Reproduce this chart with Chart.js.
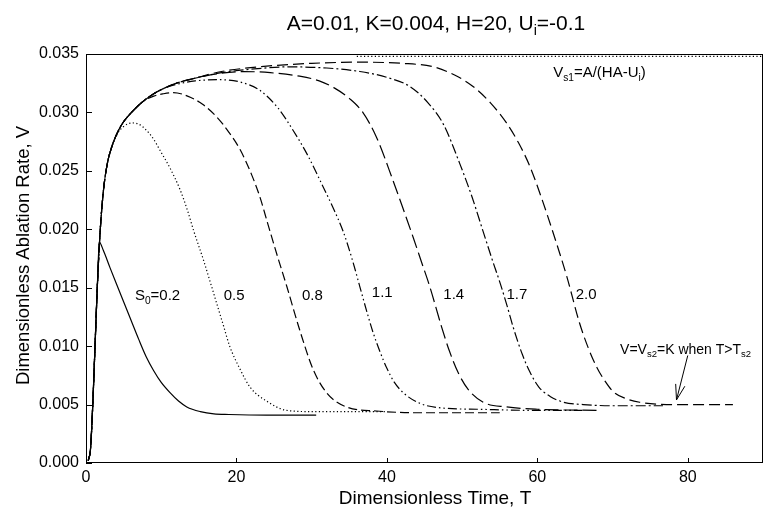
<!DOCTYPE html>
<html>
<head>
<meta charset="utf-8">
<script src="https://cdn.jsdelivr.net/npm/chart.js@4.4.0/dist/chart.umd.min.js"></script>
<style>
  html, body { margin: 0; padding: 0; background: #fff; }
</style>
</head>
<body>
<canvas id="ablation-chart" width="767" height="522"></canvas>
<script>
// values: T = dimensionless time, V = dimensionless ablation rate
var xTicks = [0, 20, 40, 60, 80];
var yTicks = [0, 0.005, 0.01, 0.015, 0.02, 0.025, 0.03, 0.035];

var tS02 = [0.3, 0.6, 0.9, 1.2, 1.5, 1.77, 2.3, 3.2, 4.0, 5.0, 6.0, 7.0, 8.0, 9.0, 10.0, 11.2, 12.3, 13.4, 15.2, 17.0, 19.0, 24.0, 30.6];
var vS02 = [0.0002, 0.0012, 0.005, 0.010, 0.015, 0.0189, 0.0182, 0.0167, 0.0154, 0.0138, 0.0122, 0.0106, 0.0091, 0.0079, 0.0069, 0.0060, 0.0053, 0.0048, 0.0044, 0.0042, 0.00415, 0.0041, 0.0041];

var tS05 = [0.3, 0.6, 0.9, 1.2, 1.5, 1.85, 2.3, 2.8, 3.4, 4.2, 5.0, 6.1, 7.0, 8.0, 9.0, 9.8, 11.2, 12.5, 13.5, 14.3, 15.6, 16.7, 17.4, 18.3, 19.1, 20.5, 21.8, 24.0, 26.7, 30.0, 35.0, 40.0];
var vS05 = [0.0002, 0.0012, 0.005, 0.010, 0.015, 0.0195, 0.0232, 0.0255, 0.0270, 0.0282, 0.0288, 0.0291, 0.0290, 0.0285, 0.0277, 0.0268, 0.0252, 0.0234, 0.0216, 0.0199, 0.0174, 0.0151, 0.0136, 0.0117, 0.0100, 0.0080, 0.0065, 0.0053, 0.0045, 0.0044, 0.0044, 0.0044];

var tS08 = [0.3, 0.6, 0.9, 1.2, 1.5, 1.85, 2.3, 2.8, 3.4, 4.2, 5.0, 6.2, 7.5, 9.0, 10.3, 11.6, 13.5, 15.5, 17.4, 19.0, 20.5, 22.0, 23.1, 24.2, 25.4, 26.7, 28.4, 30.2, 32.0, 34.6, 38.6, 44.0, 50.0, 55.0];
var vS08 = [0.0002, 0.0012, 0.005, 0.010, 0.015, 0.0195, 0.0232, 0.0255, 0.0270, 0.0283, 0.0292, 0.0301, 0.0309, 0.0314, 0.0316, 0.0317, 0.0314, 0.0307, 0.0296, 0.0283, 0.0268, 0.0247, 0.0228, 0.0204, 0.0178, 0.0151, 0.0114, 0.0080, 0.0060, 0.0048, 0.00445, 0.0043, 0.0043, 0.0043];

var tS11 = [0.3, 0.6, 0.9, 1.2, 1.5, 1.85, 2.3, 2.8, 3.4, 4.2, 5.0, 6.2, 7.5, 9.0, 10.5, 12.0, 14.5, 17.8, 20.5, 23.1, 25.5, 27.5, 29.5, 31.1, 32.8, 34.2, 35.4, 36.4, 37.4, 38.2, 39.1, 40.0, 41.0, 42.2, 44.4, 47.5, 52.0, 60.0, 66.0];
var vS11 = [0.0002, 0.0012, 0.005, 0.010, 0.015, 0.0195, 0.0232, 0.0255, 0.0270, 0.0283, 0.0292, 0.0301, 0.0309, 0.0316, 0.0321, 0.0324, 0.0327, 0.0328, 0.0326, 0.0319, 0.0304, 0.0285, 0.0263, 0.0242, 0.0219, 0.0198, 0.0174, 0.0151, 0.0128, 0.0111, 0.0095, 0.0081, 0.0069, 0.0060, 0.0051, 0.0047, 0.0046, 0.0045, 0.0045];

var tS14 = [0.3, 0.6, 0.9, 1.2, 1.5, 1.85, 2.3, 2.8, 3.4, 4.2, 5.0, 6.2, 7.5, 9.0, 10.5, 12.0, 14.3, 17.4, 21.0, 24.5, 28.4, 31.0, 33.0, 35.0, 36.8, 38.6, 40.8, 42.3, 43.5, 44.6, 45.7, 47.2, 48.3, 49.5, 50.8, 52.8, 55.9, 60.0, 68.0];
var vS14 = [0.0002, 0.0012, 0.005, 0.010, 0.015, 0.0195, 0.0232, 0.0255, 0.0270, 0.0283, 0.0292, 0.0301, 0.0309, 0.0316, 0.0321, 0.0325, 0.0329, 0.0333, 0.0335, 0.0334, 0.0331, 0.0327, 0.0321, 0.0312, 0.0300, 0.0279, 0.0242, 0.0215, 0.0193, 0.0172, 0.0151, 0.0118, 0.0096, 0.0077, 0.0063, 0.0052, 0.0048, 0.0046, 0.0045];

var tS17 = [0.3, 0.6, 0.9, 1.2, 1.5, 1.85, 2.3, 2.8, 3.4, 4.2, 5.0, 6.2, 7.5, 9.0, 10.5, 12.0, 14.3, 18.0, 22.0, 27.0, 32.0, 36.4, 40.0, 43.1, 45.5, 47.5, 49.7, 51.3, 52.8, 54.0, 55.0, 56.0, 56.8, 58.0, 59.0, 60.2, 61.7, 63.5, 66.1, 70.0, 76.7];
var vS17 = [0.0002, 0.0012, 0.005, 0.010, 0.015, 0.0195, 0.0232, 0.0255, 0.0270, 0.0283, 0.0292, 0.0301, 0.0309, 0.0316, 0.0321, 0.0325, 0.0329, 0.0334, 0.0337, 0.0339, 0.0338, 0.0335, 0.0330, 0.0322, 0.0308, 0.0290, 0.0256, 0.0228, 0.0198, 0.0174, 0.0155, 0.0134, 0.0116, 0.0093, 0.0078, 0.0065, 0.0057, 0.0052, 0.0050, 0.0049, 0.0049];

var tS20 = [0.3, 0.6, 0.9, 1.2, 1.5, 1.85, 2.3, 2.8, 3.4, 4.2, 5.0, 6.2, 7.5, 9.0, 10.5, 12.0, 14.3, 18.0, 23.0, 30.0, 36.4, 42.0, 46.2, 49.0, 51.5, 53.8, 55.9, 57.5, 59.0, 60.6, 62.1, 63.9, 65.6, 66.8, 67.9, 69.0, 70.1, 71.8, 73.6, 78.0, 86.0];
var vS20 = [0.0002, 0.0012, 0.005, 0.010, 0.015, 0.0195, 0.0232, 0.0255, 0.0270, 0.0283, 0.0292, 0.0301, 0.0309, 0.0316, 0.0321, 0.0325, 0.0329, 0.0335, 0.0339, 0.0342, 0.0343, 0.0342, 0.0339, 0.0332, 0.0322, 0.0308, 0.0291, 0.0274, 0.0254, 0.0226, 0.0197, 0.0160, 0.0120, 0.0098, 0.0082, 0.0070, 0.0061, 0.0055, 0.0052, 0.0050, 0.0050];

// upper steady value Vs1 (dotted line along the top)
var tVs1 = [36, 90];
var vVs1 = [0.0348, 0.0348];

// arrow pointing at the lower steady value
var arrowT = [80.0, 78.5];
var arrowV = [0.0092, 0.0054];

var FONT = "'Liberation Sans', Arial, Helvetica, sans-serif";

function pts(t, v) {
  return t.map(function (x, i) { return { x: x, y: v[i] }; });
}

function curve(t, v, dash) {
  return {
    data: pts(t, v),
    showLine: true,
    borderColor: '#000',
    borderWidth: 1.2,
    borderDash: dash,
    pointRadius: 0,
    fill: false,
    cubicInterpolationMode: 'monotone'
  };
}

// draw a string made of [text, isSubscript] pieces
function richText(ctx, parts, x, y, size, align) {
  var w = 0;
  parts.forEach(function (p) {
    ctx.font = (p[1] ? size * 0.68 : size) + 'px ' + FONT;
    w += ctx.measureText(p[0]).width;
  });
  var cx = align === 'center' ? x - w / 2 : x;
  ctx.textAlign = 'left';
  ctx.textBaseline = 'alphabetic';
  parts.forEach(function (p) {
    ctx.font = (p[1] ? size * 0.68 : size) + 'px ' + FONT;
    ctx.fillText(p[0], cx, p[1] ? y + size * 0.25 : y);
    cx += ctx.measureText(p[0]).width;
  });
}

var decor = {
  id: 'decor',
  afterDraw: function (chart) {
    var ctx = chart.ctx, a = chart.chartArea;
    var xs = chart.scales.x, ys = chart.scales.y;
    ctx.save();
    ctx.strokeStyle = '#000';
    ctx.fillStyle = '#000';
    ctx.lineWidth = 1;

    // frame
    ctx.strokeRect(a.left + 0.5, a.top + 0.5, a.right - a.left - 1, a.bottom - a.top - 1);

    // inward tick marks
    ctx.beginPath();
    xTicks.forEach(function (t) {
      var px = Math.round(xs.getPixelForValue(t)) + 0.5;
      ctx.moveTo(px, a.bottom);
      ctx.lineTo(px, a.bottom - 5);
    });
    yTicks.forEach(function (v) {
      var py = Math.round(ys.getPixelForValue(v)) + 0.5;
      ctx.moveTo(a.left, py);
      ctx.lineTo(a.left + 6, py);
    });
    ctx.stroke();

    // arrow
    var x0 = xs.getPixelForValue(arrowT[0]), y0 = ys.getPixelForValue(arrowV[0]);
    var x1 = xs.getPixelForValue(arrowT[1]), y1 = ys.getPixelForValue(arrowV[1]);
    var ang = Math.atan2(y1 - y0, x1 - x0);
    ctx.beginPath();
    ctx.moveTo(x0, y0);
    ctx.lineTo(x1, y1);
    ctx.moveTo(x1 - 16 * Math.cos(ang - 0.3), y1 - 16 * Math.sin(ang - 0.3));
    ctx.lineTo(x1, y1);
    ctx.lineTo(x1 - 16 * Math.cos(ang + 0.3), y1 - 16 * Math.sin(ang + 0.3));
    ctx.stroke();

    // title
    richText(ctx, [['A=0.01, K=0.004, H=20, U', 0], ['i', 1], ['=-0.1', 0]], 436, 30, 21, 'center');

    // axis titles
    richText(ctx, [['Dimensionless Time, T', 0]], 435, 504, 19, 'center');
    ctx.save();
    ctx.translate(29, (a.top + a.bottom) / 2 - 3);
    ctx.rotate(-Math.PI / 2);
    richText(ctx, [['Dimensionless Ablation Rate, V', 0]], 0, 0, 18.5, 'center');
    ctx.restore();

    // curve labels
    function lab(parts, t, v, size) {
      richText(ctx, parts, xs.getPixelForValue(t), ys.getPixelForValue(v) + size * 0.36, size, 'left');
    }
    lab([['S', 0], ['0', 1], ['=0.2', 0]], 6.5, 0.0144, 15);
    lab([['0.5', 0]], 18.3, 0.0144, 15);
    lab([['0.8', 0]], 28.7, 0.0144, 15);
    lab([['1.1', 0]], 38.0, 0.0147, 15);
    lab([['1.4', 0]], 47.5, 0.0145, 15);
    lab([['1.7', 0]], 55.9, 0.0145, 15);
    lab([['2.0', 0]], 65.1, 0.0145, 15);
    lab([['V', 0], ['s1', 1], ['=A/(HA-U', 0], ['i', 1], [')', 0]], 62.1, 0.0335, 15);
    lab([['V=V', 0], ['s2', 1], ['=K when T>T', 0], ['s2', 1]], 71.0, 0.0098, 14);

    ctx.restore();
  }
};

var ctx = document.getElementById('ablation-chart').getContext('2d');
new Chart(ctx, {
  type: 'scatter',
  data: {
    datasets: [
      curve(tS02, vS02, []),
      curve(tS05, vS05, [1.2, 2.4]),
      curve(tS08, vS08, [9, 4]),
      curve(tS11, vS11, [9, 3, 1.5, 3, 1.5, 3]),
      curve(tS14, vS14, [14, 5]),
      curve(tS17, vS17, [10, 3, 2, 3]),
      curve(tS20, vS20, [11, 5]),
      curve(tVs1, vVs1, [1.2, 2.4])
    ]
  },
  options: {
    responsive: false,
    animation: false,
    devicePixelRatio: 1,
    layout: { padding: { top: 54, right: 4, left: 0, bottom: 0 } },
    plugins: { legend: { display: false }, tooltip: { enabled: false } },
    scales: {
      x: {
        type: 'linear',
        min: 0,
        max: 90,
        afterFit: function (s) { s.height = 59; },
        afterBuildTicks: function (s) { s.ticks = xTicks.map(function (v) { return { value: v }; }); },
        grid: { display: false, drawTicks: false },
        border: { display: false },
        ticks: { color: '#000', padding: 5, maxRotation: 0, font: { family: FONT, size: 16 } }
      },
      y: {
        type: 'linear',
        min: 0,
        max: 0.035,
        afterFit: function (s) { s.width = 86; },
        afterBuildTicks: function (s) { s.ticks = yTicks.map(function (v) { return { value: v }; }); },
        grid: { display: false, drawTicks: false },
        border: { display: false },
        ticks: {
          color: '#000',
          padding: 7,
          font: { family: FONT, size: 16 },
          callback: function (v) { return v.toFixed(3); }
        }
      }
    }
  },
  plugins: [decor]
});
</script>
</body>
</html>
